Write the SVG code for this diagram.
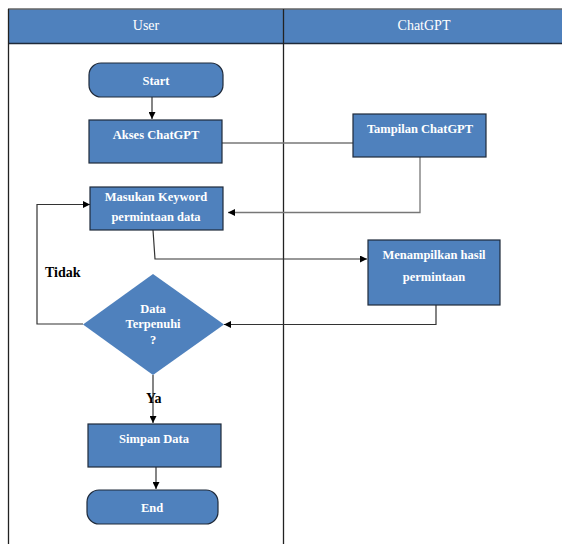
<svg xmlns="http://www.w3.org/2000/svg" width="562" height="544" viewBox="0 0 562 544">
<defs>
<marker id="ah" viewBox="0 0 10 10" refX="10" refY="5" markerWidth="7" markerHeight="7" markerUnits="userSpaceOnUse" orient="auto">
<path d="M0,0 L10,5 L0,10 z" fill="#000"/>
</marker>
<style>
.box{fill:#4F81BD;stroke:#1F2A3A;stroke-width:1.2}
.t{font-family:"Liberation Serif","DejaVu Serif",serif;font-size:12.5px;fill:#fff;text-anchor:middle;font-weight:bold}
.h{font-family:"Liberation Serif","DejaVu Serif",serif;font-size:14px;fill:#fff;text-anchor:middle}
.c{fill:none;stroke:#333;stroke-width:1.2}
.g{fill:none;stroke:#777;stroke-width:1.3}
.lab{font-family:"Liberation Serif","DejaVu Serif",serif;font-size:14px;font-weight:bold;fill:#000}
</style>
</defs>
<rect x="0" y="0" width="562" height="544" fill="#fff"/>
<g id="lanes">
<rect x="8.5" y="9" width="560" height="34" fill="#4F81BD"/>
<line x1="8" y1="9" x2="562" y2="9" stroke="#666" stroke-width="1.5"/>
<line x1="8" y1="43.5" x2="562" y2="43.5" stroke="#1F2A3A" stroke-width="1.5"/>
<line x1="8.5" y1="9" x2="8.5" y2="544" stroke="#222" stroke-width="1.3"/>
<line x1="283.5" y1="9" x2="283.5" y2="544" stroke="#222" stroke-width="1.3"/>
<text class="h" x="146" y="30">User</text>
<text class="h" x="424" y="30">ChatGPT</text>
</g>
<g id="connectors">
<line class="c" x1="152" y1="97" x2="152" y2="119" marker-end="url(#ah)"/>
<polyline class="g" points="222,143 354,143"/>
<polyline class="g" points="420,157 420,212.5 228,212.5" marker-end="url(#ah)"/>
<polyline class="c" points="153,230 155,259 367,259" marker-end="url(#ah)"/>
<polyline class="c" points="436,305 436,324.5 224,324.5" marker-end="url(#ah)"/>
<polyline class="c" points="83,324 37,324 37,204.5 90,204.5" marker-end="url(#ah)"/>
<line class="c" x1="153" y1="375" x2="153" y2="423" marker-end="url(#ah)"/>
<line class="c" x1="156" y1="467" x2="156" y2="489" marker-end="url(#ah)"/>
<text class="lab" x="45" y="277">Tidak</text>
<text class="lab" x="146" y="403">Ya</text>
</g>
<g id="start">
<rect class="box" x="89" y="63" width="134" height="34" rx="12"/>
<text class="t" x="156" y="85">Start</text>
</g>
<g id="akses">
<rect class="box" x="89" y="120" width="133" height="43"/>
<text class="t" x="156" y="139">Akses ChatGPT</text>
</g>
<g id="tampilan">
<rect class="box" x="353" y="114" width="133" height="43"/>
<text class="t" x="420" y="133">Tampilan ChatGPT</text>
</g>
<g id="masukan">
<rect class="box" x="90" y="187" width="133" height="43"/>
<text class="t" x="156" y="201">Masukan Keyword</text>
<text class="t" x="156" y="221">permintaan data</text>
</g>
<g id="menampilkan">
<rect class="box" x="368" y="240" width="132" height="65"/>
<text class="t" x="434" y="259">Menampilkan hasil</text>
<text class="t" x="434" y="281">permintaan</text>
</g>
<g id="decision">
<polygon points="153,274 224,324.5 153,375 83,324.5" fill="#4F81BD"/>
<text class="t" x="153" y="313">Data</text>
<text class="t" x="153" y="328">Terpenuhi</text>
<text class="t" x="153" y="344">?</text>
</g>
<g id="simpan">
<rect class="box" x="88" y="424" width="133" height="43"/>
<text class="t" x="154" y="443">Simpan Data</text>
</g>
<g id="end">
<rect class="box" x="87" y="490" width="131" height="34" rx="12"/>
<text class="t" x="152" y="512">End</text>
</g>
</svg>
